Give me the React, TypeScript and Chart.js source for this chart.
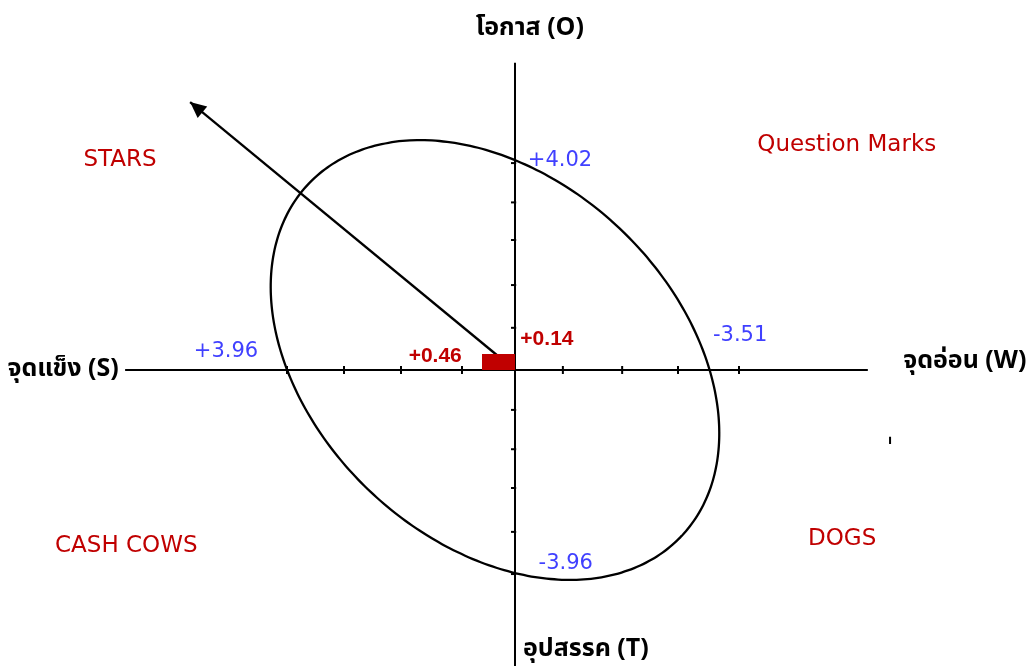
import React, { useEffect, useRef } from "react";
import { Chart, registerables } from "chart.js";

Chart.register(...registerables);

// ---- data (units: one axis unit in a common square frame) ----
const hAxisExtent = [-6.84, 6.19]; // S (left) .. W (right)
const vAxisExtent = [5.39, -5.4]; // O (top) .. T (bottom)
const xTicks = [-4.0, -3.0, -2.0, -0.93, 0.84, 1.88, 2.86, 3.93];
const yTicks = [3.63, 2.94, 2.28, 1.49, 0.74, -0.7, -1.39, -2.07, -2.84, -3.58];

// ellipse: centre, semi-axes, tilt (degrees)
const ellipseCenter = [-0.351, 0.175];
const ellipseAxes = [4.5, 3.18];
const ellipseTilt = -43.3;

// strategy arrow and internal factor box
const arrowTip = [-5.7, 4.7];
const boxCorner = [-0.58, 0.28];
const strayMark = [6.58, -1.17, -1.3];

// factor scores
const scoreS = 3.96;
const scoreW = -3.51;
const scoreO = 4.02;
const scoreT = -3.96;
const netInternal = 0.46;
const netExternal = 0.14;

const fmt = (v: number) => (v > 0 ? "+" : "") + v.toFixed(2);

const axisLabels = ["จุดแข็ง (S)", "จุดอ่อน (W)", "โอกาส (O)", "อุปสรรค (T)"];
const quadrantLabels = ["STARS", "Question Marks", "CASH COWS", "DOGS"];

const THAI = "'Noto Sans Thai', 'Noto Sans Thai UI', 'Noto Sans', 'DejaVu Sans', sans-serif";
const LATIN = "'DejaVu Sans', sans-serif";
const NARROW = "'Liberation Sans', Arial, sans-serif";
const RED = "#C00000";
const BLUE = "#4040FF";

type Lbl = { text: string; x: number; y: number; color: string; font: string; align: CanvasTextAlign };

const labels: Lbl[] = [
  { text: axisLabels[2], x: 0.26, y: 5.97, color: "#000", font: `bold 25px ${THAI}`, align: "center" },
  { text: axisLabels[0], x: -6.95, y: -0.02, color: "#000", font: `bold 25px ${THAI}`, align: "right" },
  { text: axisLabels[1], x: 6.81, y: 0.12, color: "#000", font: `bold 25px ${THAI}`, align: "left" },
  { text: axisLabels[3], x: 0.14, y: -4.93, color: "#000", font: `bold 25px ${THAI}`, align: "left" },
  { text: quadrantLabels[0], x: -6.93, y: 3.68, color: RED, font: `23px ${LATIN}`, align: "center" },
  { text: quadrantLabels[1], x: 5.82, y: 3.95, color: RED, font: `23px ${LATIN}`, align: "center" },
  { text: quadrantLabels[2], x: -6.82, y: -3.09, color: RED, font: `23px ${LATIN}`, align: "center" },
  { text: quadrantLabels[3], x: 5.74, y: -2.96, color: RED, font: `23px ${LATIN}`, align: "center" },
  { text: fmt(scoreS), x: -5.07, y: 0.33, color: BLUE, font: `21px ${LATIN}`, align: "center" },
  { text: fmt(scoreO), x: 0.79, y: 3.68, color: BLUE, font: `21px ${LATIN}`, align: "center" },
  { text: fmt(scoreW), x: 3.95, y: 0.61, color: BLUE, font: `21px ${LATIN}`, align: "center" },
  { text: fmt(scoreT), x: 0.89, y: -3.39, color: BLUE, font: `21px ${LATIN}`, align: "center" },
  { text: fmt(netInternal), x: -1.4, y: 0.25, color: RED, font: `bold 21px ${NARROW}`, align: "center" },
  { text: fmt(netExternal), x: 0.56, y: 0.54, color: RED, font: `bold 21px ${NARROW}`, align: "center" },
];

const TICK = 0.07;

function ellipsePoints() {
  const pts: { x: number; y: number }[] = [];
  const phi = (ellipseTilt * Math.PI) / 180;
  for (let d = 0; d <= 360; d += 2) {
    const t = (d * Math.PI) / 180;
    const ca = ellipseAxes[0] * Math.cos(t);
    const sb = ellipseAxes[1] * Math.sin(t);
    pts.push({
      x: ellipseCenter[0] + ca * Math.cos(phi) - sb * Math.sin(phi),
      y: ellipseCenter[1] + ca * Math.sin(phi) + sb * Math.cos(phi),
    });
  }
  return pts;
}

const overlay = {
  id: "overlay",
  afterDatasetsDraw(chart: any) {
    const { ctx, scales } = chart;
    const sx = scales.x;
    const sy = scales.y;
    // arrow head
    const ox = sx.getPixelForValue(0);
    const oy = sy.getPixelForValue(0);
    const tx = sx.getPixelForValue(arrowTip[0]);
    const ty = sy.getPixelForValue(arrowTip[1]);
    const ang = Math.atan2(ty - oy, tx - ox);
    const len = 16;
    const hw = 7.5;
    ctx.save();
    ctx.fillStyle = "#000";
    ctx.beginPath();
    ctx.moveTo(tx, ty);
    const bx = tx - len * Math.cos(ang);
    const by = ty - len * Math.sin(ang);
    ctx.lineTo(bx + hw * Math.sin(ang), by - hw * Math.cos(ang));
    ctx.lineTo(bx - hw * Math.sin(ang), by + hw * Math.cos(ang));
    ctx.closePath();
    ctx.fill();
    // labels
    ctx.textBaseline = "middle";
    for (const l of labels) {
      ctx.font = l.font;
      ctx.fillStyle = l.color;
      ctx.textAlign = l.align;
      ctx.fillText(l.text, sx.getPixelForValue(l.x), sy.getPixelForValue(l.y));
    }
    ctx.restore();
  },
};

export default function App() {
  const ref = useRef<HTMLCanvasElement | null>(null);
  useEffect(() => {
    if (!ref.current) return;
    const line = (data: { x: number; y: number }[], color = "#000", width = 2, tension = 0) => ({
      data,
      showLine: true,
      borderColor: color,
      borderWidth: width,
      pointRadius: 0,
      pointHoverRadius: 0,
      tension,
      fill: false,
    });
    const datasets: any[] = [
      {
        data: [
          { x: boxCorner[0], y: boxCorner[1] },
          { x: 0, y: boxCorner[1] },
        ],
        showLine: true,
        borderWidth: 0,
        borderColor: RED,
        backgroundColor: RED,
        pointRadius: 0,
        fill: "origin",
      },
      line([
        { x: hAxisExtent[0], y: 0 },
        { x: hAxisExtent[1], y: 0 },
      ]),
      line([
        { x: 0, y: vAxisExtent[0] },
        { x: 0, y: vAxisExtent[1] },
      ]),
      ...xTicks.map((t) =>
        line([
          { x: t, y: -TICK },
          { x: t, y: TICK },
        ])
      ),
      ...yTicks.map((t) =>
        line([
          { x: -TICK, y: t },
          { x: TICK * 0.3, y: t },
        ])
      ),
      line(ellipsePoints(), "#000", 2.3, 0.3),
      line(
        [
          { x: 0, y: 0 },
          { x: arrowTip[0], y: arrowTip[1] },
        ],
        "#000",
        2.3
      ),
      line([
        { x: strayMark[0], y: strayMark[1] },
        { x: strayMark[0], y: strayMark[2] },
      ]),
    ];
    const chart = new Chart(ref.current, {
      type: "scatter",
      data: { datasets },
      options: {
        animation: false,
        responsive: false,
        devicePixelRatio: 1,
        layout: { padding: 0 },
        plugins: { legend: { display: false }, tooltip: { enabled: false } },
        scales: {
          x: { type: "linear", display: false, min: -9.035, max: 9.0 },
          y: { type: "linear", display: false, min: -5.193, max: 6.491 },
        },
      },
      plugins: [overlay],
    });
    return () => chart.destroy();
  }, []);
  return (
    <div style={{ position: "absolute", left: 0, top: 0, width: 1028, height: 666, background: "#fff" }}>
      <canvas ref={ref} width={1028} height={666} style={{ display: "block" }} />
    </div>
  );
}
